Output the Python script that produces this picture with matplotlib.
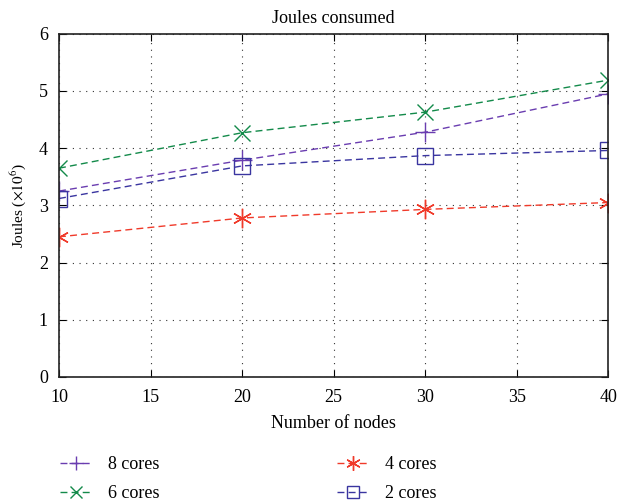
import matplotlib
matplotlib.use('Agg')
from matplotlib import pyplot as plt

matplotlib.rc('font', **{'family': 'serif', 'serif': ['Liberation Serif', 'DejaVu Serif']})
matplotlib.rc('mathtext', fontset='stix')

nodes = [10, 20, 30, 40]
cores8 = [3.25, 3.79, 4.28, 4.95]
cores6 = [3.65, 4.27, 4.63, 5.19]
cores4 = [2.45, 2.78, 2.93, 3.05]
cores2 = [3.12, 3.69, 3.87, 3.96]

fig = plt.figure(figsize=(6.18, 5.04), dpi=100)
ax = fig.add_axes([0.0955, 0.252, 0.889, 0.681])

dash = (0, (5, 3))
ax.plot(nodes, cores8, linestyle=dash, color='#6a3db0', marker='+', markersize=14,
        markeredgewidth=1.0, linewidth=1.0, label='8 cores')
ax.plot(nodes, cores6, linestyle=dash, color='#138a4a', marker='x', markersize=12,
        markeredgewidth=1.0, linewidth=1.0, label='6 cores')
ax.plot(nodes, cores4, linestyle=dash, color='#f03a2a', marker=(6, 2, 0), markersize=14,
        markeredgewidth=1.0, linewidth=1.0, label='4 cores')
ax.plot(nodes, cores2, linestyle=dash, color='#3a35a0', marker='s', markersize=12,
        markerfacecolor='none', markeredgewidth=1.0, linewidth=1.0, label='2 cores')

ax.set_xlim(10, 40)
ax.set_ylim(0, 6)
ax.set_xticks([10, 15, 20, 25, 30, 35, 40])
ax.set_yticks([0, 1, 2, 3, 4, 5, 6])
ax.grid(True, linestyle=(0, (1, 5)), color='#333333', linewidth=0.8)
ax.tick_params(direction='in', top=True, right=True, labelsize=13, length=5)
ax.tick_params(axis='x', pad=9)
ax.tick_params(axis='y', pad=8)
for s in ax.spines.values():
    s.set_linewidth(1.2)
    s.set_color('#222222')

ax.set_title('Joules consumed', fontsize=13, pad=8)
ax.set_xlabel('Number of nodes', fontsize=13, labelpad=6)
ax.set_ylabel(r'Joules ($\times10^6$)', fontsize=11, labelpad=8)

fig.legend(loc='lower left', bbox_to_anchor=(0.07, -0.028), ncol=2, frameon=False,
           fontsize=13, columnspacing=9.8, handlelength=1.8, handletextpad=0.9,
           labelspacing=0.65, markerscale=0.75)

plt.savefig('out.png', dpi=100)
